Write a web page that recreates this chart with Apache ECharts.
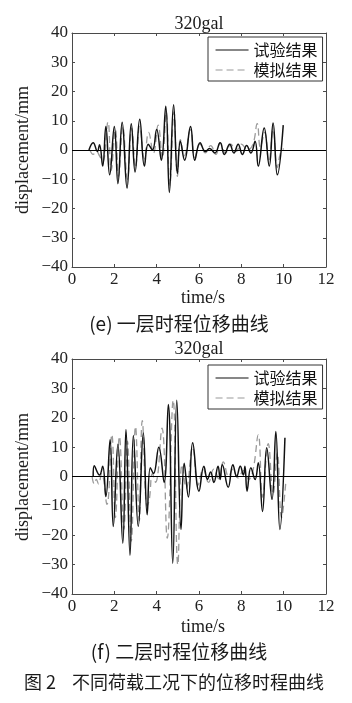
<!DOCTYPE html>
<html>
<head>
<meta charset="utf-8">
<script src="https://cdn.jsdelivr.net/npm/echarts@6/dist/echarts.min.js"></script>
<style>
  html, body { margin: 0; padding: 0; background: #fff; }
  #main { width: 352px; height: 703px; }
</style>
</head>
<body>
<div id="main"></div>
<script>
// time (s), displacement (mm): peaks and troughs
var floor1Test = [[0.8,0],[1.0,2.5],[1.2,-0.5],[1.3,1.8],[1.45,-5.5],[1.6,8],[1.78,-8.5],[2.0,8],[2.17,-11.5],[2.37,9.5],[2.6,-13],[2.8,9],[2.98,-7.5],[3.2,10.5],[3.42,-5.5],[3.6,2],[3.8,0],[4.0,7],[4.22,-3.5],[4.43,15],[4.6,-14.5],[4.8,15.5],[4.98,-8],[5.12,3],[5.32,-3.5],[5.6,8],[5.8,-3.5],[6.05,2.5],[6.3,-0.5],[6.5,0.5],[6.75,-1],[7.0,2.5],[7.2,-1.5],[7.45,2],[7.65,-1],[7.85,2],[8.05,-1.5],[8.25,1.5],[8.45,-1],[8.65,3],[8.8,-5.5],[9.08,7.5],[9.32,-5.5],[9.5,9.2],[9.7,-8.5],[9.98,8.5]];
var floor1Sim = [[0.85,0],[1.0,-1.5],[1.15,-0.5],[1.3,-2],[1.45,-4],[1.7,9.6],[1.85,-7],[2.05,7],[2.2,-9],[2.4,8],[2.62,-10],[2.82,7.5],[3.0,-6],[3.2,8],[3.42,-3],[3.62,6],[3.85,-1],[4.07,8.5],[4.27,-3],[4.45,13],[4.62,-12],[4.82,13],[4.98,-9],[5.12,3.5],[5.3,-2],[5.6,7],[5.8,-2.5],[6.05,2],[6.3,-1],[6.55,1.5],[6.8,-1.5],[7.0,2.5],[7.25,-1],[7.5,2],[7.75,-0.5],[8.0,2],[8.3,0],[8.55,2],[8.75,9],[8.9,1],[9.1,6],[9.3,-4],[9.5,7],[9.7,-6],[9.85,-1],[10.0,0.5]];
var floor2Test = [[1.0,0],[1.05,3.7],[1.3,0.5],[1.45,3.5],[1.6,-6.8],[1.8,12.5],[1.95,-17],[2.17,11],[2.4,-22.7],[2.55,16],[2.74,-26.8],[2.9,14],[3.13,-17],[3.37,14.8],[3.55,-13],[3.7,3],[3.85,1],[4.1,10],[4.35,-2],[4.55,24.5],[4.76,-29.5],[4.95,26],[5.15,-18],[5.3,4.5],[5.5,-7],[5.7,11.5],[6.0,-5],[6.23,3.5],[6.4,-1],[6.55,1.5],[6.7,-2],[6.9,3.5],[7.0,-1],[7.1,4],[7.38,-3.7],[7.6,4],[7.78,0],[7.95,3.5],[8.1,0.5],[8.17,3.5],[8.27,-5],[8.45,3],[8.65,-1],[8.8,4.7],[9.0,-11.9],[9.2,9.8],[9.45,-7.8],[9.63,15.3],[9.82,-18],[10.06,13.2]];
var floor2Sim = [[0.95,0],[1.05,-2.5],[1.15,-1],[1.25,-2.5],[1.4,1],[1.65,-9.5],[1.88,14.3],[2.05,-14],[2.24,13.6],[2.45,-18],[2.62,12],[2.8,-22],[3.0,17],[3.18,-15],[3.32,19],[3.55,-10],[3.65,-8],[3.8,1],[3.95,-2],[4.25,16.5],[4.5,-21],[4.78,26],[5.0,-30],[5.2,4],[5.4,-4],[5.7,10],[5.95,-3],[6.2,2.5],[6.45,-2],[6.7,2.5],[6.95,-1],[7.15,5],[7.4,0],[7.6,2.5],[7.85,-0.5],[8.1,2],[8.35,-1],[8.55,2],[8.8,14.2],[9.0,-7],[9.27,11.2],[9.5,-6],[9.7,8],[9.9,-14],[10.1,-2]];

var seriesNames = ['试验结果', '模拟结果'];
var chartTitles = ['320gal', '320gal'];
var subCaptions = ['(e) 一层时程位移曲线', '(f) 二层时程位移曲线'];
var figCaption = '图 2    不同荷载工况下的位移时程曲线';

var serif = '"Liberation Serif", "DejaVu Serif", serif';
var cjk = '"Noto Sans CJK SC", sans-serif';
var frameColor = '#4a4a4a';

var chart = echarts.init(document.getElementById('main'));

function minusFmt(v) {
	return v < 0 ? '\u2212' + Math.abs(v) : String(v);
}

function xAxes(gridIndex) {
	var base = {
		gridIndex: gridIndex, type: 'value', min: 0, max: 12, interval: 2,
		axisLine: { show: true, onZero: false, lineStyle: { color: frameColor, width: 1 } },
		axisTick: { show: true, inside: true, length: 3, lineStyle: { color: frameColor } },
		splitLine: { show: false }
	};
	var bottom = echarts.util.merge({ position: 'bottom',
		axisLabel: { color: '#222', fontFamily: serif, fontSize: 17, margin: 4 } }, base, true);
	var top = echarts.util.merge({ position: 'top', axisLabel: { show: false } }, base, true);
	return [bottom, top];
}

function yAxes(gridIndex) {
	var base = {
		gridIndex: gridIndex, type: 'value', min: -40, max: 40, interval: 10,
		axisLine: { show: true, onZero: false, lineStyle: { color: frameColor, width: 1 } },
		axisTick: { show: true, inside: true, length: 3, lineStyle: { color: frameColor } },
		splitLine: { show: false }
	};
	var left = echarts.util.merge({ position: 'left',
		axisLabel: { color: '#222', fontFamily: serif, fontSize: 17, margin: 4, formatter: minusFmt } }, base, true);
	var right = echarts.util.merge({ position: 'right', axisLabel: { show: false } }, base, true);
	return [left, right];
}

function lineSeries(name, data, idx, dashed) {
	var col = dashed ? '#9a9a9a' : '#111';
	var s = {
		name: name, type: 'line', data: data,
		xAxisIndex: idx * 2, yAxisIndex: idx * 2,
		smooth: 0.45, symbol: 'none', silent: true, animation: false,
		itemStyle: { color: col },
		lineStyle: dashed ? { color: col, width: 1.3, type: [7, 4] }
		                  : { color: col, width: 1.5 }
	};
	if (!dashed) {
		s.markLine = {
			silent: true, symbol: 'none', label: { show: false },
			lineStyle: { color: '#000', width: 1, type: 'solid' },
			data: [{ yAxis: 0 }]
		};
	}
	return s;
}

function legendAt(top) {
	return {
		data: seriesNames, orient: 'vertical', left: 208, top: top,
		itemWidth: 33, itemHeight: 14, itemGap: 4, padding: [5, 5, 3, 7],
		backgroundColor: '#fff', borderColor: '#333', borderWidth: 1, borderRadius: 0,
		selectedMode: false,
		itemStyle: { opacity: 0 },
		lineStyle: { width: 1.1 },
		textStyle: { fontFamily: cjk, fontSize: 16, color: '#111' }
	};
}

function txt(x, y, text, font, size, rot) {
	var t = {
		type: 'text', x: x, y: y, silent: true,
		style: { text: text, fontFamily: font, fontSize: size, fill: '#1a1a1a', align: 'center', verticalAlign: 'middle' }
	};
	if (rot) t.rotation = rot;
	return t;
}

var option = {
	backgroundColor: '#fff',
	animation: false,
	grid: [
		{ left: 72, top: 33, width: 254, height: 234 },
		{ left: 72, top: 359, width: 254, height: 235 }
	],
	xAxis: xAxes(0).concat(xAxes(1)),
	yAxis: yAxes(0).concat(yAxes(1)),
	legend: [legendAt(37), legendAt(365)],
	series: [
		lineSeries(seriesNames[1], floor1Sim, 0, true),
		lineSeries(seriesNames[0], floor1Test, 0, false),
		lineSeries(seriesNames[1], floor2Sim, 1, true),
		lineSeries(seriesNames[0], floor2Test, 1, false)
	],
	graphic: [
		txt(199, 24, chartTitles[0], serif, 18),
		txt(199, 349, chartTitles[1], serif, 18),
		txt(23, 150, 'displacement/mm', serif, 18, Math.PI / 2),
		txt(23, 477, 'displacement/mm', serif, 18, Math.PI / 2),
		txt(203, 298, 'time/s', serif, 18),
		txt(203, 627, 'time/s', serif, 18),
		txt(179, 324, subCaptions[0], cjk, 19),
		txt(179, 652, subCaptions[1], cjk, 19),
		txt(174, 682, figCaption, cjk, 18)
	]
};

chart.setOption(option);
</script>
</body>
</html>
